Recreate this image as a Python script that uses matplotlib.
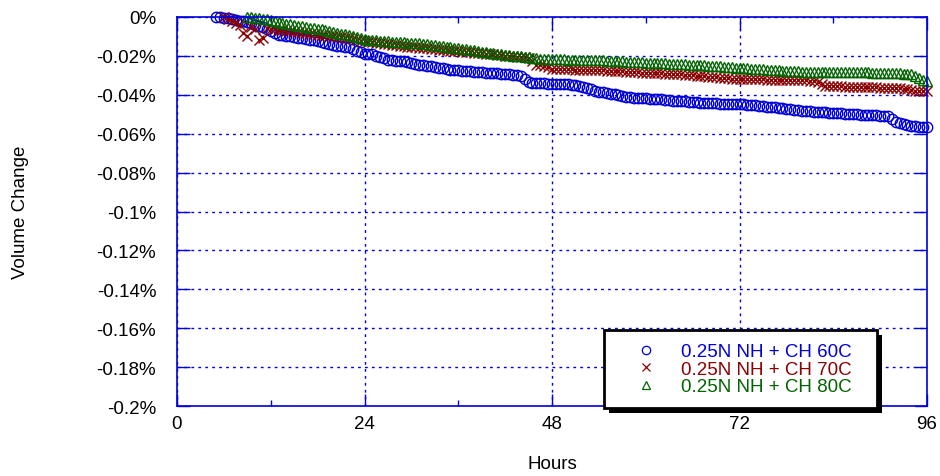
import numpy as np
import matplotlib
matplotlib.use("Agg")
import matplotlib.pyplot as plt
from matplotlib.patches import Rectangle
from matplotlib.ticker import MultipleLocator, FixedLocator

plt.rcParams['font.family'] = ['Liberation Sans', 'DejaVu Sans']

# volume change (%), one reading every half hour
hours_60 = np.arange(5, 96.5, 0.5)
vol_60 = [0.000, -0.0002, -0.0005, -0.0007, -0.001, -0.0015, -0.002, -0.0023, -0.0027, -0.0033,
          -0.004, -0.0045, -0.005, -0.006, -0.007, -0.008, -0.009, -0.0095, -0.0098, -0.010,
          -0.0103, -0.0106, -0.011, -0.0113, -0.0117, -0.012, -0.0124, -0.013, -0.0135, -0.014,
          -0.0145, -0.0148, -0.015, -0.0152, -0.0155, -0.0165, -0.0175, -0.0182, -0.0188, -0.0189,
          -0.019, -0.0198, -0.0205, -0.0213, -0.022, -0.0223, -0.0225, -0.0226, -0.0228, -0.0233,
          -0.0237, -0.0241, -0.0245, -0.0248, -0.025, -0.0253, -0.0256, -0.026, -0.0264, -0.0267,
          -0.027, -0.0273, -0.0275, -0.0277, -0.0278, -0.028, -0.0282, -0.0284, -0.0285, -0.0286,
          -0.0287, -0.0288, -0.029, -0.0292, -0.0293, -0.0295, -0.0296, -0.0298, -0.0305, -0.032,
          -0.0336, -0.0338, -0.0339, -0.034, -0.0341, -0.0342, -0.0342, -0.0343, -0.0344, -0.0345,
          -0.0346, -0.0348, -0.035, -0.0355, -0.036, -0.0366, -0.0372, -0.0378, -0.0384, -0.0388,
          -0.0392, -0.0395, -0.0398, -0.0402, -0.0405, -0.0409, -0.0412, -0.0414, -0.0416, -0.0418,
          -0.0419, -0.042, -0.0421, -0.0423, -0.0424, -0.0426, -0.0428, -0.043, -0.0431, -0.0433,
          -0.0434, -0.0436, -0.0437, -0.0439, -0.044, -0.0441, -0.0442, -0.0443, -0.0444, -0.0445,
          -0.0445, -0.0446, -0.0446, -0.0447, -0.0447, -0.0449, -0.0451, -0.0453, -0.0455, -0.0457,
          -0.0459, -0.0461, -0.0463, -0.0465, -0.0467, -0.0469, -0.0471, -0.0474, -0.0476, -0.0479,
          -0.0481, -0.0483, -0.0484, -0.0486, -0.0487, -0.0489, -0.049, -0.0492, -0.0493, -0.0495,
          -0.0496, -0.0498, -0.0499, -0.050, -0.0501, -0.0502, -0.0503, -0.0504, -0.0505, -0.0506,
          -0.0507, -0.0508, -0.051, -0.0525, -0.0542, -0.0547, -0.0552, -0.0556, -0.056, -0.0562,
          -0.0563, -0.0565, -0.0566]

hours_70 = np.arange(6, 96.5, 0.5)
vol_70 = [0.000, -0.001, -0.002, -0.003, -0.004, -0.008, -0.010, -0.005, -0.006, -0.012,
          -0.011, -0.0058, -0.006, -0.0063, -0.0065, -0.0068, -0.007, -0.0073, -0.0075, -0.0078,
          -0.008, -0.0083, -0.0085, -0.0088, -0.009, -0.0093, -0.0095, -0.0098, -0.010, -0.0103,
          -0.0105, -0.0108, -0.011, -0.0114, -0.0118, -0.0122, -0.0125, -0.0128, -0.013, -0.0133,
          -0.0135, -0.0138, -0.014, -0.0143, -0.0145, -0.0148, -0.015, -0.0152, -0.0153, -0.0155,
          -0.0157, -0.0159, -0.016, -0.0163, -0.0165, -0.0168, -0.017, -0.0172, -0.0173, -0.0175,
          -0.0177, -0.0179, -0.018, -0.0182, -0.0184, -0.0186, -0.0187, -0.0189, -0.019, -0.0192,
          -0.0194, -0.0196, -0.0198, -0.020, -0.0202, -0.0204, -0.0206, -0.0208, -0.021, -0.0228,
          -0.0245, -0.0247, -0.025, -0.0258, -0.0265, -0.0266, -0.0267, -0.0267, -0.0268, -0.0269,
          -0.027, -0.027, -0.0271, -0.0272, -0.0273, -0.0274, -0.0275, -0.0275, -0.0276, -0.0277,
          -0.0278, -0.0279, -0.028, -0.0282, -0.0283, -0.0284, -0.0285, -0.0286, -0.0287, -0.0288,
          -0.0289, -0.029, -0.029, -0.0291, -0.0292, -0.0293, -0.0294, -0.0295, -0.0297, -0.0298,
          -0.030, -0.0302, -0.0303, -0.0305, -0.0307, -0.0308, -0.031, -0.0312, -0.0314, -0.0316,
          -0.0318, -0.0319, -0.032, -0.032, -0.032, -0.032, -0.0321, -0.0321, -0.0321, -0.0322,
          -0.0322, -0.0322, -0.0323, -0.0323, -0.0324, -0.0324, -0.0325, -0.0325, -0.0326, -0.0326,
          -0.0327, -0.033, -0.0335, -0.0345, -0.0353, -0.0354, -0.0355, -0.0356, -0.0357, -0.0358,
          -0.0359, -0.0359, -0.036, -0.036, -0.0361, -0.0361, -0.0362, -0.0362, -0.0363, -0.0363,
          -0.0364, -0.0364, -0.0365, -0.0366, -0.0368, -0.0371, -0.0375, -0.0378, -0.038, -0.0381,
          -0.0382]

hours_80 = np.arange(9, 96.5, 0.5)
vol_80 = [0.000, -0.0001, -0.0003, -0.0005, -0.0008, -0.0011, -0.0015, -0.002, -0.0025, -0.003,
          -0.0035, -0.0038, -0.0042, -0.0045, -0.0048, -0.0051, -0.0055, -0.0057, -0.006, -0.0064,
          -0.0068, -0.0072, -0.0077, -0.0081, -0.0085, -0.0088, -0.0092, -0.0098, -0.0105, -0.011,
          -0.0115, -0.0116, -0.0118, -0.012, -0.0122, -0.0123, -0.0125, -0.0126, -0.0128, -0.0129,
          -0.0131, -0.0132, -0.0133, -0.0135, -0.0136, -0.0137, -0.0139, -0.0142, -0.0145, -0.0147,
          -0.015, -0.0153, -0.0156, -0.0158, -0.016, -0.0163, -0.0166, -0.0169, -0.0172, -0.0175,
          -0.0178, -0.018, -0.0183, -0.0185, -0.0188, -0.019, -0.0193, -0.0195, -0.0198, -0.020,
          -0.0203, -0.0205, -0.0208, -0.021, -0.0213, -0.0215, -0.0216, -0.0216, -0.0217, -0.0217,
          -0.0218, -0.0218, -0.0219, -0.0219, -0.022, -0.022, -0.0221, -0.0221, -0.0222, -0.0222,
          -0.0223, -0.0223, -0.0224, -0.0225, -0.0226, -0.0227, -0.0228, -0.0229, -0.023, -0.0231,
          -0.0232, -0.0233, -0.0234, -0.0235, -0.0236, -0.0237, -0.0238, -0.0239, -0.024, -0.0241,
          -0.0242, -0.0243, -0.0244, -0.0245, -0.0246, -0.0247, -0.0248, -0.0249, -0.025, -0.0251,
          -0.0253, -0.0254, -0.0256, -0.0257, -0.0259, -0.026, -0.0261, -0.0262, -0.0263, -0.0265,
          -0.0266, -0.0267, -0.0268, -0.027, -0.0271, -0.0273, -0.0274, -0.0276, -0.0277, -0.0278,
          -0.028, -0.028, -0.0281, -0.0281, -0.0282, -0.0282, -0.0282, -0.0283, -0.0283, -0.0283,
          -0.0283, -0.0284, -0.0284, -0.0284, -0.0284, -0.0284, -0.0284, -0.0285, -0.0285, -0.0285,
          -0.0286, -0.0286, -0.0287, -0.0288, -0.0289, -0.0289, -0.029, -0.029, -0.0291, -0.0292,
          -0.0293, -0.0305, -0.0315, -0.0322, -0.033]

labels = ["0.25N NH + CH 60C", "0.25N NH + CH 70C", "0.25N NH + CH 80C"]
colors = ["#0000dd", "#8b0000", "#006400"]

y_ticks = [0, -0.02, -0.04, -0.06, -0.08, -0.1, -0.12, -0.14, -0.16, -0.18, -0.2]
y_tick_labels = ["0%", "-0.02%", "-0.04%", "-0.06%", "-0.08%", "-0.1%",
                 "-0.12%", "-0.14%", "-0.16%", "-0.18%", "-0.2%"]
x_ticks = [0, 24, 48, 72, 96]

blue = "#0000dd"
fs = 13.5

fig = plt.figure(figsize=(9.4, 4.77), dpi=100)
ax = fig.add_axes([177 / 940, 70 / 477, 750 / 940, 389 / 477])

ax.plot(hours_60, vol_60, ls="none", marker="o", ms=7.5, mfc="none", mec=colors[0], mew=1.0,
        label=labels[0], clip_on=False)
ax.plot(hours_70, vol_70, ls="none", marker="x", ms=7.5, mec=colors[1], mew=1.0,
        label=labels[1], clip_on=False)
ax.plot(hours_80, vol_80, ls="none", marker="^", ms=7.5, mfc="none", mec=colors[2], mew=1.0,
        label=labels[2], clip_on=False)

ax.set_xlim(0, 96)
ax.set_ylim(-0.2, 0)
ax.xaxis.set_major_locator(FixedLocator(x_ticks))
ax.xaxis.set_minor_locator(MultipleLocator(12))
ax.set_yticks(y_ticks)
ax.set_yticklabels(y_tick_labels)

for s in ax.spines.values():
    s.set_color(blue)
    s.set_linewidth(1.2)
ax.tick_params(which="both", direction="in", top=True, right=True, color=blue,
               labelsize=fs, labelcolor="black")
ax.tick_params(which="major", length=9, width=1)
ax.tick_params(which="minor", length=4, width=1)
ax.tick_params(axis="y", which="major", pad=15)
ax.tick_params(axis="x", which="major", pad=6.5)
ax.grid(True, which="major", color=blue, ls=(0, (2, 3)), lw=1)

ax.set_xlabel("Hours", fontsize=fs)
ax.set_ylabel("Volume Change", fontsize=fs)
ax.xaxis.set_label_coords(0.5, -0.125)
ax.yaxis.set_label_coords(-0.197, 0.5)

leg = ax.legend(loc="upper left", bbox_to_anchor=(604 / 940, 1 - 331 / 477, 273 / 940, 0.0),
                bbox_transform=fig.transFigure, mode="expand", fontsize=fs,
                frameon=True, fancybox=False, edgecolor="black", framealpha=1,
                borderpad=0.7, labelspacing=0.02, handlelength=3.1, handletextpad=0.32,
                borderaxespad=0)
leg.get_frame().set_linewidth(2)
leg.set_zorder(10)
for txt, c in zip(leg.get_texts(), colors):
    txt.set_color(c)
for h in leg.legend_handles:
    h.set_markersize(6)
    h.set_markeredgewidth(0.9)

# solid black drop shadow behind the legend box
fig.canvas.draw()
bb = leg.get_window_extent().transformed(fig.transFigure.inverted())
shadow = Rectangle((bb.x0 + 5 / 940, bb.y0 - 5 / 477), bb.width, bb.height,
                   transform=fig.transFigure, facecolor="black", edgecolor="none",
                   zorder=9, clip_on=False)
ax.add_patch(shadow)

fig.savefig("out.png", dpi=100)
